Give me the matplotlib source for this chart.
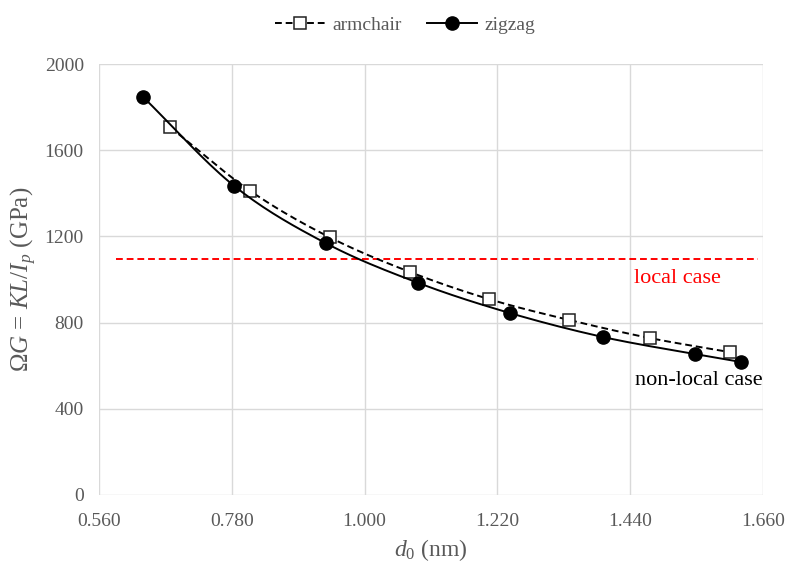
import numpy as np
import matplotlib
matplotlib.use("Agg")
import matplotlib.pyplot as plt
from matplotlib.lines import Line2D

plt.rcParams['font.family'] = ['Liberation Serif', 'DejaVu Serif']
plt.rcParams['mathtext.fontset'] = 'custom'
plt.rcParams['mathtext.rm'] = 'Liberation Serif'
plt.rcParams['mathtext.it'] = 'Liberation Serif:italic'
plt.rcParams['mathtext.bf'] = 'Liberation Serif:bold'

# data
armchair_d = [0.678, 0.810, 0.942, 1.075, 1.206, 1.339, 1.473, 1.605]
armchair_g = [1706, 1412, 1196, 1035, 909, 812, 728, 663]
zigzag_d = [0.633, 0.784, 0.936, 1.089, 1.241, 1.395, 1.547, 1.624]
zigzag_g = [1847, 1434, 1168, 984, 844, 733, 654, 617]
local_value = 1095
local_range = [0.588, 1.652]
x_ticks = [0.560, 0.780, 1.000, 1.220, 1.440, 1.660]
y_ticks = [0, 400, 800, 1200, 1600, 2000]


def smooth(x, y, n=20):
    # Catmull-Rom curve through the points (Excel-style smoothed line)
    x = np.asarray(x, float); y = np.asarray(y, float)
    px = np.concatenate([[2 * x[0] - x[1]], x, [2 * x[-1] - x[-2]]])
    py = np.concatenate([[2 * y[0] - y[1]], y, [2 * y[-1] - y[-2]]])
    xs, ys = [], []
    t = np.linspace(0, 1, n)
    for i in range(1, len(px) - 2):
        for arr, out in ((px, xs), (py, ys)):
            p0, p1, p2, p3 = arr[i - 1], arr[i], arr[i + 1], arr[i + 2]
            out.extend(0.5 * ((2 * p1) + (-p0 + p2) * t +
                              (2 * p0 - 5 * p1 + 4 * p2 - p3) * t ** 2 +
                              (-p0 + 3 * p1 - 3 * p2 + p3) * t ** 3))
    return np.array(xs), np.array(ys)


fig = plt.figure(figsize=(7.86, 5.65), dpi=100)
ax = fig.add_axes([0.126, 0.1239, 0.8448, 0.7628])

grid_c = '#d9d9d9'
ax.set_xlim(0.56, 1.66)
ax.set_ylim(0, 2000)
ax.set_xticks(x_ticks)
ax.set_yticks(y_ticks)
ax.set_xticklabels([f"{v:.3f}" for v in x_ticks])
ax.set_yticklabels([str(v) for v in y_ticks])
ax.grid(True, color=grid_c, linewidth=1.0)
ax.set_axisbelow(True)
for s in ax.spines.values():
    s.set_visible(False)
ax.tick_params(length=0, labelsize=14, colors='#595959')
ax.tick_params(axis='x', pad=13)
ax.tick_params(axis='y', pad=11)

# local case
ax.plot(local_range, [local_value, local_value], color='#ff0000', lw=1.4,
        ls=(0, (3.5, 2)))

sx, sy = smooth(armchair_d, armchair_g)
ax.plot(sx, sy, color='black', lw=1.4, ls=(0, (3.5, 2)))
ax.plot(armchair_d, armchair_g, ls='none', marker='s', ms=9, mfc='white',
        mec='#222222', mew=1.1)

sx, sy = smooth(zigzag_d, zigzag_g)
ax.plot(sx, sy, color='black', lw=1.4)
ax.plot(zigzag_d, zigzag_g, ls='none', marker='o', ms=9.5, mfc='black',
        mec='black')

ax.text(1.519, 984, 'local case', color='#ff0000', fontsize=16,
        ha='center', va='baseline')
ax.text(1.553, 510, 'non-local case', color='black', fontsize=16,
        ha='center', va='baseline')

ax.set_xlabel(r'$d_{\mathit{0}}$ (nm)', fontsize=17, color='#595959')
ax.set_ylabel('$\\mathit{ΩG}$ = $KL/I_p$ (GPa)', fontsize=18,
              color='#595959')
ax.xaxis.set_label_coords(0.5, -0.098)
ax.yaxis.set_label_coords(-0.09, 0.5)

handles = [
    Line2D([], [], color='black', lw=1.4, ls=(0, (3.5, 2)), marker='s',
           ms=9, mfc='white', mec='#222222', mew=1.1),
    Line2D([], [], color='black', lw=1.4, marker='o', ms=9.5, mfc='black'),
]
leg = fig.legend(handles, ['armchair', 'zigzag'], loc='center',
                 bbox_to_anchor=(0.515, 0.956), ncol=2, frameon=False,
                 fontsize=14, handlelength=2.6, columnspacing=1.3,
                 handletextpad=0.35)
for t in leg.get_texts():
    t.set_color('#595959')

fig.savefig('out.png', dpi=100)
